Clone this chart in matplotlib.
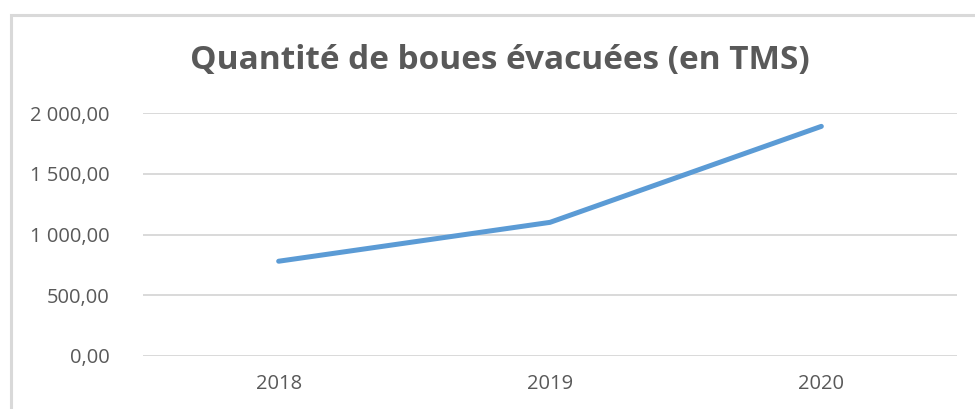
import matplotlib
matplotlib.use("Agg")
import matplotlib.pyplot as plt
from matplotlib.ticker import FuncFormatter
from matplotlib.patches import Rectangle

# donnees
annees = ["2018", "2019", "2020"]
boues = [780, 1100, 1890]
graduations = [0, 500, 1000, 1500, 2000]

gris_texte = "#595959"
gris_grille = "#d9d9d9"
bleu = "#5b9bd5"

plt.rcParams["font.family"] = ["Open Sans", "DejaVu Sans"]


def format_fr(v, pos):
    s = "{:,.2f}".format(v)
    return s.replace(",", " ").replace(".", ",")


fig = plt.figure(figsize=(9.75, 4.09), dpi=100)
ax = fig.add_axes([143 / 975, 53 / 409, 814 / 975, 243 / 409])

ax.plot(range(len(annees)), boues, color=bleu, linewidth=3.6,
        solid_capstyle="round", solid_joinstyle="round", zorder=3)

ax.set_xlim(-0.5, len(annees) - 0.5)
ax.set_ylim(0, 2000)
ax.set_yticks(graduations)
ax.yaxis.set_major_formatter(FuncFormatter(format_fr))
ax.set_xticks(range(len(annees)))
ax.set_xticklabels(annees)

ax.grid(axis="y", color=gris_grille, linewidth=1.4)
ax.set_axisbelow(True)
for s in ax.spines.values():
    s.set_visible(False)
ax.tick_params(axis="both", length=0, labelsize=14.5, colors=gris_texte)
ax.tick_params(axis="y", pad=24)
ax.tick_params(axis="x", pad=13)

fig.text(500 / 975, 1 - 61 / 409, "Quantité de boues évacuées (en TMS)",
         ha="center", va="center", fontsize=24, fontweight="bold",
         color=gris_texte)

# cadre de la zone de graphique
fig.patches.append(Rectangle((10.5 / 975, -0.2), 2, (409 - 14.5) / 409 + 0.2,
                             transform=fig.transFigure, fill=False,
                             edgecolor=gris_grille, linewidth=2.2))

fig.savefig("out.png", dpi=100, facecolor="white")
